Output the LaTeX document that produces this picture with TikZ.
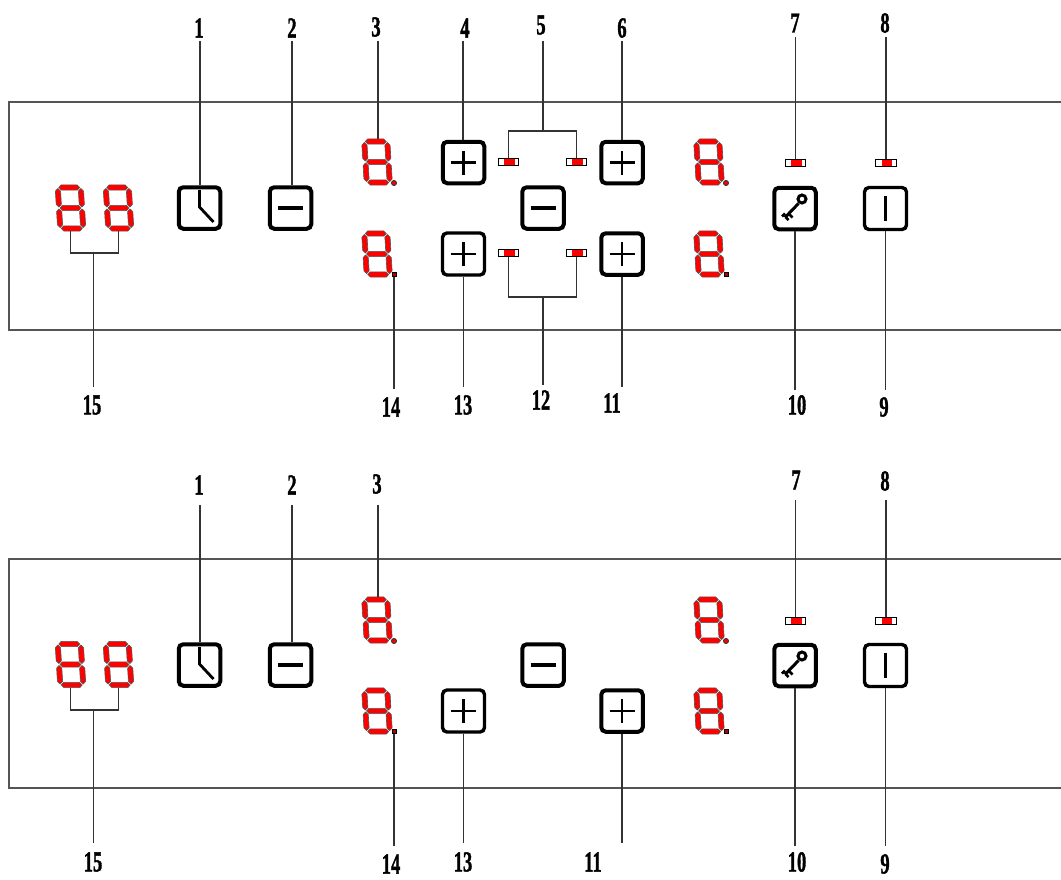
\documentclass[tikz,border=0pt]{standalone}
\usepackage{fontspec}
\setmainfont{Liberation Serif}
\newfontfamily\labfont[FakeBold=1.6]{Liberation Serif Bold}
\definecolor{linec}{HTML}{333333}
\definecolor{panelc}{HTML}{555555}
\definecolor{segedge}{HTML}{555555}
\tikzset{
  panel/.style={draw=panelc,line width=1.2pt},
  conn/.style={draw=linec,line width=1.3pt},
  keybtn/.style={draw=black,line width=4pt,rounded corners=4.5pt,minimum width=41.5pt,minimum height=41.5pt,inner sep=0pt,fill=white},
  thinbtn/.style={keybtn,line width=3.4pt,minimum width=42pt,minimum height=42pt},
  icon/.style={draw=black,line width=2.8pt},
  ledbox/.style={draw=black,line width=1pt,fill=white,minimum width=20.5pt,minimum height=7.5pt,inner sep=0pt},
  ledred/.style={fill=red},
  digitbox/.style={minimum width=28pt,minimum height=46pt,inner sep=0pt},
  seg/.style={fill=red,draw=segedge,line width=.6pt},
  dotbox/.style={circle,fill=red,draw=linec,line width=.9pt,minimum size=5pt,inner sep=0pt},
  sqdot/.style={rectangle,fill=red!70!black,draw=black,line width=1pt,minimum size=4pt,inner sep=0pt},
  lab/.style={inner sep=0pt,font=\fontsize{29}{29}\labfont},
}
\newcommand{\lbl}[4]{\node[lab] (#1) at (#2,#3) {\scalebox{.64}[1]{#4}};}
\newcommand{\hseg}[3]{\path[seg] (#1,#3) -- ++(2.6,-2.6) -- (#2-2.6,#3-2.6) -- (#2,#3) -- (#2-2.6,#3+2.6) -- (#1+2.6,#3+2.6) -- cycle;}
\newcommand{\vseg}[3]{\path[seg] (#1,#2) -- ++(2.6,2.6) -- (#1+2.6,#3-2.6) -- (#1,#3) -- (#1-2.6,#3-2.6) -- (#1-2.6,#2+2.6) -- cycle;}
\newcommand{\digitN}[3]{%
  \node[digitbox] (#1) at (#2,#3) {};
  \begin{scope}[shift={(#2,#3)},xslant=-.06]
    \hseg{-10.5}{10.5}{-20.5}
    \hseg{-10.5}{10.5}{0}
    \hseg{-10.5}{10.5}{20.5}
    \vseg{-11.5}{-19.5}{-1}
    \vseg{11.5}{-19.5}{-1}
    \vseg{-11.5}{1}{19.5}
    \vseg{11.5}{1}{19.5}
  \end{scope}}
\newcommand{\ledN}[3]{%
  \node[ledbox] (#1) at (#2,#3) {};
  \fill[ledred] (#2-4.5,#3-3.2) rectangle (#2+6,#3+3.2);}
\newcommand{\plusicon}[2]{\draw[icon,#2] ([xshift=-12.5pt]#1.center) -- ([xshift=12.5pt]#1.center) ([yshift=-12pt]#1.center) -- ([yshift=12pt]#1.center);}
\newcommand{\minusicon}[1]{\draw[icon,line width=3.2pt] ([xshift=-12.5pt]#1.center) -- ([xshift=12.5pt]#1.center);}
\newcommand{\clockicon}[1]{\draw[icon] ([yshift=18pt]#1.center) -- ([yshift=1pt]#1.center) -- ([xshift=14pt,yshift=-14pt]#1.center);}
\newcommand{\baricon}[1]{\draw[icon,line width=2.4pt] ([yshift=12.5pt]#1.center) -- ([yshift=-12.5pt]#1.center);}
\newcommand{\keyicon}[1]{%
  \begin{scope}[shift={(#1.center)}]
    \draw[black,line width=3pt] (7,-9.5) circle[radius=4];
    \draw[black,line width=3pt] (3.5,-5) -- (-10,9);
    \draw[black,line width=2.8pt] (-6,5.5) -- (-2.5,9) (-10,5) -- (-13,8) (-9.5,8.5) -- (-6.5,11.5);
  \end{scope}}
\begin{document}
\begin{tikzpicture}[x=1pt,y=-1pt]
\useasboundingbox (0,0) rectangle (1061,879);
% ===== top panel =====
\coordinate (pa) at (1061,102);
\coordinate (pb) at (9,102);
\coordinate (pc) at (9,330);
\coordinate (pd) at (1061,330);
\draw[panel] (pa) -- (pb) -- (pc) -- (pd);
\digitN{ta}{70.5}{208}
\digitN{tb}{118.5}{208}
\digitN{tc}{377}{162}
\digitN{td}{377}{254}
\digitN{te}{709}{162}
\digitN{tf}{709}{254}
\node[dotbox] (tdc) at (394,183) {};
\node[sqdot] (tdd) at (394,274) {};
\node[dotbox] (tde) at (726,183) {};
\node[sqdot] (tdf) at (726,274) {};
\node[keybtn] (tclock) at (199.5,208) {};
\node[keybtn] (tminus) at (290.5,208) {};
\node[keybtn] (tp4) at (463.5,162.5) {};
\node[keybtn] (tp6) at (622,162.5) {};
\node[keybtn] (tmid) at (543,208) {};
\node[thinbtn] (tp13) at (463.5,254) {};
\node[keybtn] (tp11) at (622,254) {};
\node[keybtn] (tkey) at (795,208.5) {};
\node[thinbtn] (tbar) at (885.5,208.5) {};
\clockicon{tclock}\minusicon{tminus}\minusicon{tmid}
\plusicon{tp4}{}\plusicon{tp6}{}\plusicon{tp13}{line width=2.4pt}\plusicon{tp11}{}
\keyicon{tkey}\baricon{tbar}
\ledN{tl1}{508.5}{162}
\ledN{tl2}{576.5}{162}
\ledN{tl3}{508.5}{253}
\ledN{tl4}{576.5}{253}
\ledN{tl7}{795.5}{163}
\ledN{tl8}{886}{163}
\lbl{a1}{199}{28}{1}
\lbl{a2}{292}{28}{2}
\lbl{a3}{376}{27}{3}
\lbl{a4}{465}{28}{4}
\lbl{a5}{541}{25}{5}
\lbl{a6}{622}{28}{6}
\lbl{a7}{795}{23}{7}
\lbl{a8}{885}{23}{8}
\lbl{a15}{92}{405}{15}
\lbl{a14}{391}{407}{14}
\lbl{a13}{463}{405}{13}
\lbl{a12}{541}{400}{12}
\lbl{a11}{612}{403}{11}
\lbl{a10}{797}{405}{10}
\lbl{a9}{884}{407}{9}
\coordinate (s1) at (200,41);\coordinate (s2) at (292,41);\coordinate (s3) at (378,41);
\coordinate (s4) at (463,41);\coordinate (s5) at (543,41);\coordinate (s6) at (622,41);
\coordinate (s7) at (795.5,37);\coordinate (s8) at (886,37);
\draw[conn] (s1) -- (s1 |- tclock.north);
\draw[conn] (s2) -- (s2 |- tminus.north);
\draw[conn] (s3) -- (s3 |- tc.north);
\draw[conn] (s4) -- (s4 |- tp4.north);
\draw[conn] (s6) -- (s6 |- tp6.north);
\draw[conn] (s7) -- (tl7.north);
\draw[conn] (s8) -- (tl8.north);
\coordinate (j5) at (543,131);
\draw[conn] (s5) -- (j5);
\draw[conn] (tl1.north) |- (j5) -| (tl2.north);
\coordinate (e15) at (93.5,387);\coordinate (j15) at (93.5,253);
\draw[conn] (e15) -- (j15);
\draw[conn] (ta.south) |- (j15) -| (tb.south);
\coordinate (e14) at (394,389);\coordinate (e13) at (463.5,387);\coordinate (e12) at (543,385);
\coordinate (e11) at (622,387);\coordinate (e10) at (795,390);\coordinate (e9) at (885.5,390);
\coordinate (j12) at (543,297);
\draw[conn] (tdd.south) -- (e14);
\draw[conn] (tp13.south) -- (e13);
\draw[conn] (tp11.south) -- (e11);
\draw[conn] (tkey.south) -- (e10);
\draw[conn] (tbar.south) -- (e9);
\draw[conn] (j12) -- (e12);
\draw[conn] (tl3.south) |- (j12) -| (tl4.south);
% ===== bottom panel =====
\coordinate (qa) at (1061,559);
\coordinate (qb) at (9,559);
\coordinate (qc) at (9,788);
\coordinate (qd) at (1061,788);
\draw[panel] (qa) -- (qb) -- (qc) -- (qd);
\digitN{ba}{70.5}{664.5}
\digitN{bb}{118.5}{664.5}
\digitN{bc}{377}{620}
\digitN{bd}{377}{711}
\digitN{be}{709}{620}
\digitN{bf}{709}{711}
\node[dotbox] (bdc) at (394,641) {};
\node[sqdot] (bdd) at (394,731) {};
\node[dotbox] (bde) at (726,641) {};
\node[sqdot] (bdf) at (726,731) {};
\node[keybtn] (bclock) at (199.5,665) {};
\node[keybtn] (bminus) at (290.5,665) {};
\node[keybtn] (bmid) at (543,665) {};
\node[thinbtn] (bp13) at (463.5,711) {};
\node[keybtn] (bp11) at (622,711) {};
\node[keybtn] (bkey) at (795,665.5) {};
\node[thinbtn] (bbar) at (885.5,665.5) {};
\clockicon{bclock}\minusicon{bminus}\minusicon{bmid}
\plusicon{bp13}{line width=2.4pt}\plusicon{bp11}{}
\keyicon{bkey}\baricon{bbar}
\ledN{bl7}{795.5}{621}
\ledN{bl8}{886}{621}
\lbl{c1}{199}{485}{1}
\lbl{c2}{292}{485}{2}
\lbl{c3}{377}{484}{3}
\lbl{c7}{796}{480}{7}
\lbl{c8}{885}{481}{8}
\lbl{c15}{93}{862}{15}
\lbl{c14}{391}{864}{14}
\lbl{c13}{463}{862}{13}
\lbl{c11}{593}{862}{11}
\lbl{c10}{797}{862}{10}
\lbl{c9}{885}{864}{9}
\coordinate (u1) at (200,505);\coordinate (u2) at (292,505);\coordinate (u3) at (378,505);
\coordinate (u7) at (795.5,500);\coordinate (u8) at (886,500);
\draw[conn] (u1) -- (u1 |- bclock.north);
\draw[conn] (u2) -- (u2 |- bminus.north);
\draw[conn] (u3) -- (u3 |- bc.north);
\draw[conn] (u7) -- (bl7.north);
\draw[conn] (u8) -- (bl8.north);
\coordinate (f15) at (93.5,843);\coordinate (k15) at (93.5,710);
\draw[conn] (f15) -- (k15);
\draw[conn] (ba.south) |- (k15) -| (bb.south);
\coordinate (f14) at (394,846);\coordinate (f13) at (463.5,843);
\coordinate (f11) at (622,843);\coordinate (f10) at (795,846);\coordinate (f9) at (885.5,846);
\draw[conn] (bdd.south) -- (f14);
\draw[conn] (bp13.south) -- (f13);
\draw[conn] (bp11.south) -- (f11);
\draw[conn] (bkey.south) -- (f10);
\draw[conn] (bbar.south) -- (f9);
\end{tikzpicture}
\end{document}
